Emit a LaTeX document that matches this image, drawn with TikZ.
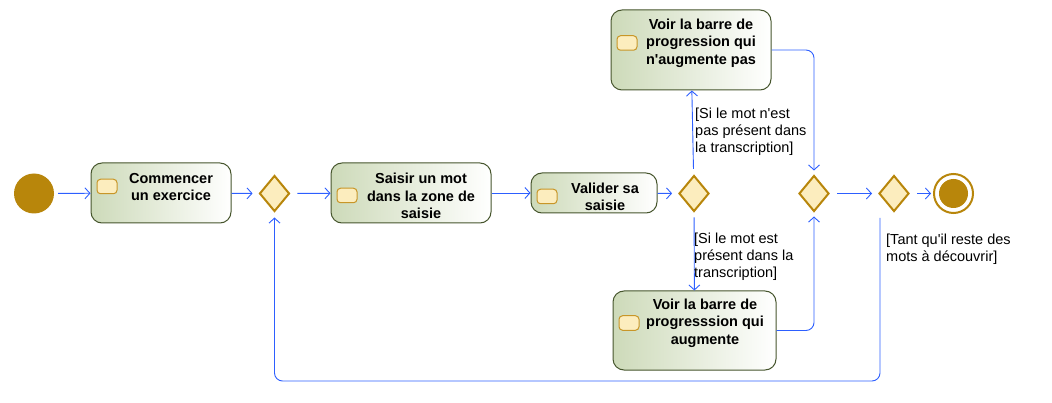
\documentclass[tikz,border=0pt]{standalone}
\usepackage{fontspec}
\setmainfont{Liberation Sans}[Ligatures=TeXOff]
\usetikzlibrary{shapes.geometric,arrows.meta}
\definecolor{gold}{RGB}{184,134,11}
\definecolor{dfill}{RGB}{252,237,190}
\definecolor{boxl}{RGB}{205,218,185}
\definecolor{boxd}{RGB}{70,85,45}
\definecolor{flow}{RGB}{45,95,255}
\definecolor{iconb}{RGB}{200,150,40}
\begin{document}
\begin{tikzpicture}[x=1pt,y=-1pt,
 actbox/.style={draw=boxd, line width=1pt, rounded corners=11pt, left color=boxl, right color=white, inner sep=0},
 icon/.style={draw=iconb, line width=1pt, fill=dfill, rounded corners=3.5pt, minimum width=20pt, minimum height=14.5pt, inner sep=0},
 btext/.style={font=\fontsize{14.5}{17.5}\selectfont\bfseries, align=center, inner sep=0},
 ltext/.style={font=\fontsize{14.5}{17}\selectfont, align=left, inner sep=0, anchor=north west},
 dec/.style={diamond, draw=gold, line width=2pt, fill=dfill, minimum width=30pt, minimum height=36pt, inner sep=0},
 flowline/.style={draw=flow, line width=0.9pt, -{Straight Barb[length=5pt,width=11pt]}},
]
\useasboundingbox (0,0) rectangle (1052,403);

% start
\node[circle, fill=gold, minimum size=40pt, inner sep=0] (start) at (34,193.5) {};

% Commencer
\node[actbox, minimum width=140pt, minimum height=60pt] (commencer) at (161,193) {};
\node[icon] (i1) at (107,186.5) {};
\node[btext] (t1) at (171,187) {Commencer\\un exercice};

% Saisir
\node[actbox, minimum width=160pt, minimum height=60pt] (saisir) at (411,193) {};
\node[icon] (i2) at (347,195.5) {};
\node[btext] (t2) at (421,196) {Saisir un mot\\dans la zone de\\saisie};

% Valider
\node[actbox, minimum width=126pt, minimum height=40pt] (valider) at (594,193) {};
\node[icon] (i3) at (547,196.5) {};
\node[btext] (t3) at (605,197) {Valider sa\\saisie};

% top box
\node[actbox, minimum width=160pt, minimum height=80pt] (topbox) at (691,50) {};
\node[icon] (i4) at (627,43) {};
\node[btext] (t4) at (701,43) {Voir la barre de\\progression qui\\n'augmente pas};

% bottom box
\node[actbox, minimum width=163pt, minimum height=79pt] (botbox) at (694.5,330.5) {};
\node[icon] (i5) at (629,323) {};
\node[btext] (t5) at (705,323) {Voir la barre de\\progresssion qui\\augmente};

% decisions
\node[dec] (d1) at (274.5,193.5) {};
\node[dec] (d2) at (694,193.5) {};
\node[dec] (d3) at (814,193.5) {};
\node[dec] (d4) at (894,193.5) {};

% final
\node[circle, draw=gold, line width=2pt, fill=white, minimum size=39pt, inner sep=0] (final) at (953.5,193.5) {};
\fill[gold] (final.center) circle (14.5pt);

% connectors
\draw[flowline, shorten <=4pt] (start) -- (commencer);
\draw[flowline, shorten >=6pt] (commencer) -- (d1);
\draw[flowline, shorten <=7pt] (d1) -- (saisir);
\draw[flowline] (saisir) -- (valider);
\draw[flowline, shorten >=6pt] (valider) -- (d2);
\draw[flowline, shorten <=6pt] (d2) -- (topbox);
\draw[flowline, shorten <=5pt] (d2) -- (botbox);
\draw[flowline, rounded corners=8pt, shorten >=4pt] (topbox.east) -| (d3.north);
\draw[flowline, rounded corners=8pt, shorten >=4pt] (botbox.east) -| (d3.south);
\draw[flowline, shorten <=7pt, shorten >=6pt] (d3) -- (d4);
\draw[flowline, shorten <=7pt, shorten >=2pt] (d4) -- (final);
\coordinate (lp) at (880,218);
\coordinate (lb) at (880,381);
\draw[flowline, rounded corners=8pt, shorten >=5pt] (lp) -- (lb) -| (d1.south);

% labels
\node[ltext] (l1) at (695,108) {[Si le mot n'est\\pas présent dans\\la transcription]};
\node[ltext] (l2) at (694,233) {[Si le mot est\\présent dans la\\transcription]};
\node[ltext] (l3) at (886,234) {[Tant qu'il reste des\\mots à découvrir]};
\end{tikzpicture}
\end{document}
